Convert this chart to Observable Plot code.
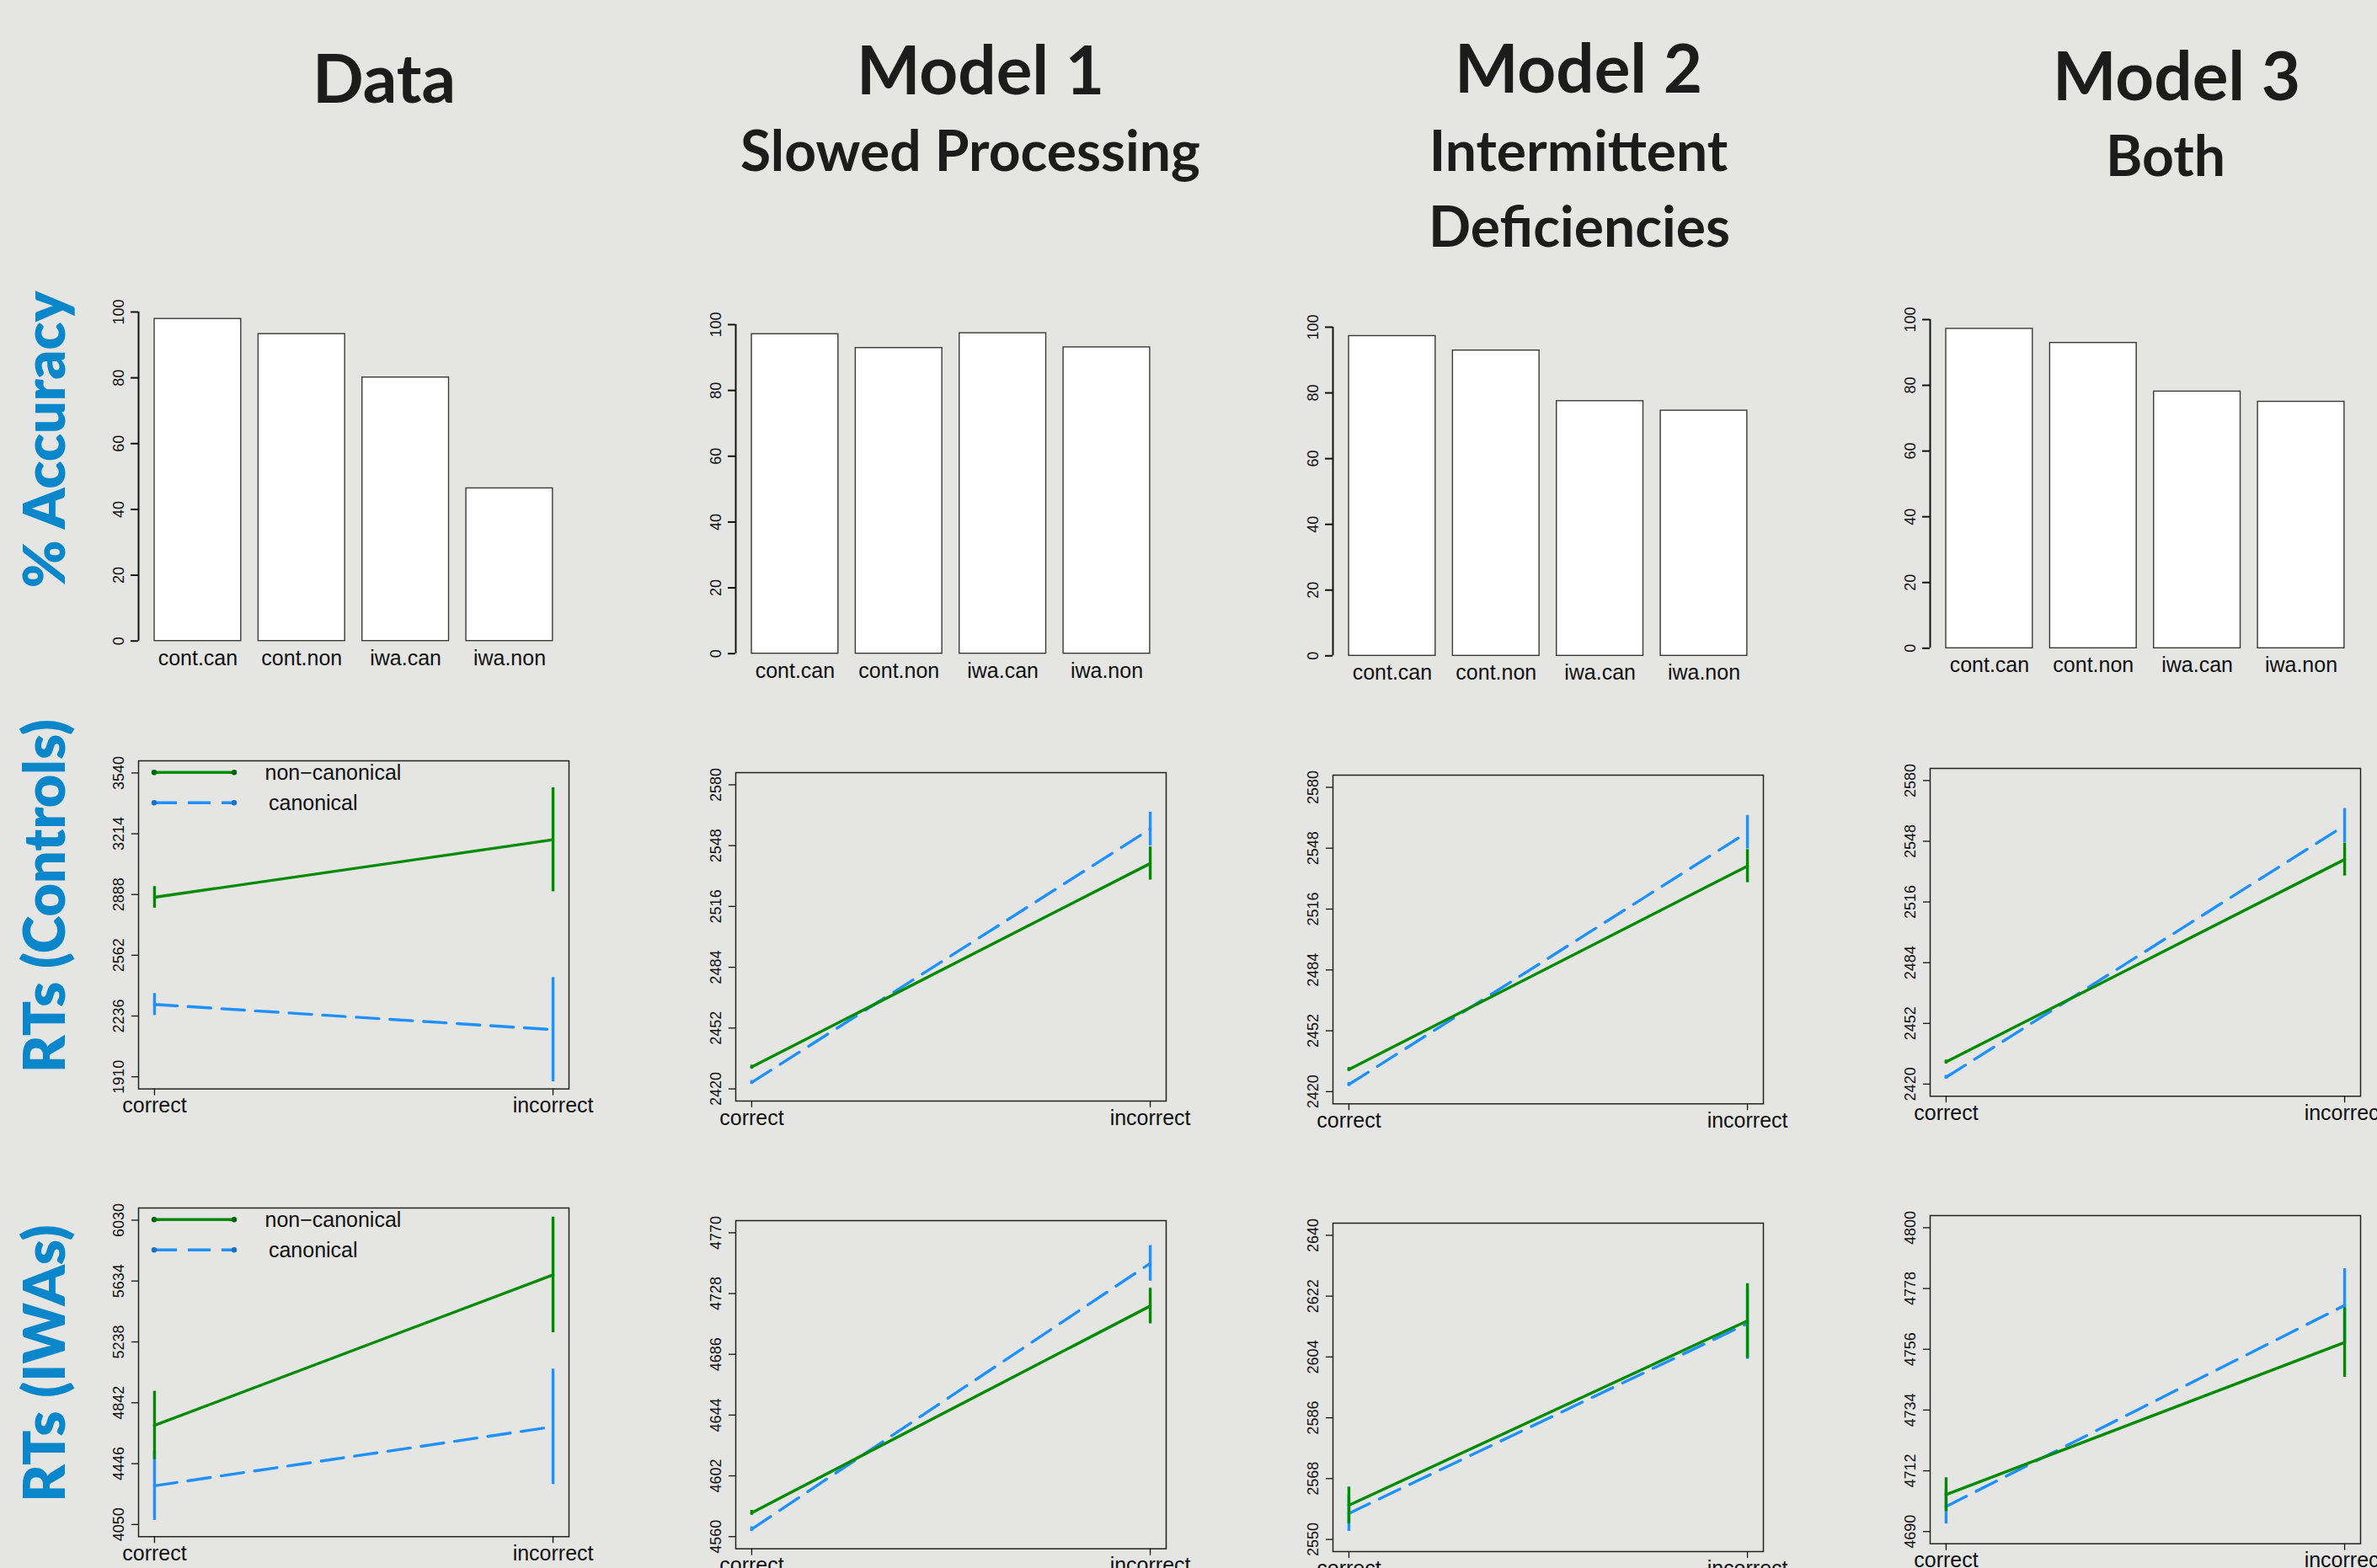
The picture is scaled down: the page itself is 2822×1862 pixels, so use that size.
<!DOCTYPE html>
<html>
<head>
<meta charset="utf-8">
<script src="https://cdn.jsdelivr.net/npm/d3@7"></script>
<script src="https://cdn.jsdelivr.net/npm/@observablehq/plot@0.6"></script>
<style>
html, body { margin: 0; padding: 0; background: #e5e5e3; }
#page { position: relative; width: 2822px; height: 1862px; overflow: hidden; background: #e5e5e3; }
</style>
</head>
<body>
<div id="page"></div>
<script>
// ---------------- DATA ----------------
const columnTitles = ["Data", "Model 1", "Model 2", "Model 3"];
const columnSubtitles = [[], ["Slowed Processing"], ["Intermittent", "Deficiencies"], ["Both"]];
const rowLabels = ["% Accuracy", "RTs (Controls)", "RTs (IWAs)"];

const categories = ["cont.can", "cont.non", "iwa.can", "iwa.non"];
const accuracyData   = [97.9, 93.3, 80.1, 46.4];
const accuracyModel1 = [97.1, 92.9, 97.4, 93.1];
const accuracyModel2 = [97.3, 92.9, 77.5, 74.6];
const accuracyModel3 = [97.2, 92.9, 78.1, 75.0];
const accuracyTicks  = [0, 20, 40, 60, 80, 100];

const conditions = ["correct", "incorrect"];
const seriesNames = ["non\u2212canonical", "canonical"];

// RTs, controls
const ctrlTicksData   = [1910, 2236, 2562, 2888, 3214, 3540];
const ctrlTicksModels = [2420, 2452, 2484, 2516, 2548, 2580];
const ctrlNonMeanData = [2873, 3182];   const ctrlNonErrData = [58, 279];
const ctrlCanMeanData = [2298, 2163];   const ctrlCanErrData = [59, 280];
const ctrlNonMeanM1 = [2431.5, 2538.6]; const ctrlNonErrM1 = [1.0, 8.7];
const ctrlCanMeanM1 = [2423.4, 2556.7]; const ctrlCanErrM1 = [1.0, 8.9];
const ctrlNonMeanM2 = [2431.7, 2538.6]; const ctrlNonErrM2 = [1.0, 8.7];
const ctrlCanMeanM2 = [2423.8, 2556.4]; const ctrlCanErrM2 = [1.0, 8.8];
const ctrlNonMeanM3 = [2431.7, 2538.4]; const ctrlNonErrM3 = [1.0, 8.7];
const ctrlCanMeanM3 = [2423.6, 2556.3]; const ctrlCanErrM3 = [1.0, 9.0];

// RTs, IWAs
const iwaTicksData = [4050, 4446, 4842, 5238, 5634, 6030];
const iwaTicksM1   = [4560, 4602, 4644, 4686, 4728, 4770];
const iwaTicksM2   = [2550, 2568, 2586, 2604, 2622, 2640];
const iwaTicksM3   = [4690, 4712, 4734, 4756, 4778, 4800];
const iwaNonMeanData = [4695, 5674];   const iwaNonErrData = [222, 376];
const iwaCanMeanData = [4302, 4686];   const iwaCanErrData = [225, 375];
const iwaNonMeanM1 = [4576.5, 4719.4]; const iwaNonErrM1 = [1.7, 12.3];
const iwaCanMeanM1 = [4565.2, 4748.9]; const iwaCanErrM1 = [1.6, 12.3];
const iwaNonMeanM2 = [2560.1, 2614.7]; const iwaNonErrM2 = [5.4, 11.0];
const iwaCanMeanM2 = [2557.7, 2613.9]; const iwaCanErrM2 = [5.3, 10.6];
const iwaNonMeanM3 = [4703.4, 4758.5]; const iwaNonErrM3 = [6.1, 12.6];
const iwaCanMeanM3 = [4699.1, 4771.9]; const iwaCanErrM3 = [6.3, 13.3];

// ---------------- STYLE / LAYOUT ----------------
const page = document.getElementById("page");
const FONT = "'Liberation Sans', Arial, Helvetica, sans-serif";
const TITLE_FONT = "Lato, 'Open Sans', sans-serif";
const GREEN = "#008B00", BLUE = "#1E90FF", INK = "#111111", LABEL_BLUE = "#0a87cb";
const LINE_W = 3.4, DASH = "27,13";
const PLOT_W = 511;

const barLayout = [
  {axisX: 164,    y100: 370, y0: 760.7},
  {axisX: 872.9,  y100: 385, y0: 775.7},
  {axisX: 1581.7, y100: 388, y0: 778.3},
  {axisX: 2291.2, y100: 379, y0: 769.3}
];
const ctrlLayout = [
  {left: 164,    top: 902.7, bottom: 1292.3},
  {left: 873,    top: 917.3, bottom: 1307.3},
  {left: 1582.2, top: 919.7, bottom: 1310},
  {left: 2290.8, top: 911.7, bottom: 1301}
];
const iwaLayout = [
  {left: 164,    top: 1434,   bottom: 1824.3},
  {left: 873,    top: 1449.3, bottom: 1839},
  {left: 1582.2, top: 1451.7, bottom: 1841.7},
  {left: 2290.8, top: 1443,   bottom: 1832.7}
];
const titleLayout = [
  {x: 456,  y: 122, sub: []},
  {x: 1164, y: 112, sub: [{x: 1152, y: 203}]},
  {x: 1874, y: 110, sub: [{x: 1874, y: 203}, {x: 1875, y: 293}]},
  {x: 2584, y: 119, sub: [{x: 2571, y: 209}]}
];
const rowLabelLayout = [{x: 77, y: 522}, {x: 77, y: 1064}, {x: 77, y: 1619}];

function mount(svg, left, top) {
  svg.style.position = "absolute";
  svg.style.left = left + "px";
  svg.style.top = top + "px";
  svg.style.background = "transparent";
  svg.style.overflow = "visible";
  svg.style.maxWidth = "none";
  page.appendChild(svg);
}

// ---------------- BAR PANELS ----------------
function barPanel(values, lay) {
  const mL = 70, mR = 30, mT = 20, mB = 50;
  const plotH = lay.y0 - lay.y100;
  const bars = categories.map((cat, i) => ({cat, value: values[i], x1: 0.2 + 1.2 * i, x2: 1.2 + 1.2 * i}));
  const xMin = 0.015, xMax = 4.986;
  const svg = Plot.plot({
    width: mL + PLOT_W + mR,
    height: mT + plotH + mB,
    marginLeft: mL, marginRight: mR, marginTop: mT, marginBottom: mB,
    x: {type: "linear", domain: [xMin, xMax], axis: null},
    y: {domain: [0, 100]},
    marks: [
      Plot.rect(bars, {x1: "x1", x2: "x2", y1: 0, y2: "value", fill: "white", stroke: "#3a3a3a", strokeWidth: 1.4}),
      Plot.ruleX([xMin], {y1: 0, y2: 100, stroke: INK, strokeWidth: 2}),
      Plot.axisY(accuracyTicks, {tickSize: 9, tickFormat: () => "", label: null, stroke: INK, strokeWidth: 2}),
      Plot.text(accuracyTicks, {y: d => d, text: d => String(d), frameAnchor: "left", dx: -23, rotate: -90,
        textAnchor: "middle", lineAnchor: "middle", fontSize: 18, fontFamily: FONT, fill: INK}),
      Plot.text(bars, {x: d => (d.x1 + d.x2) / 2, text: "cat", frameAnchor: "bottom", dy: 28.6,
        lineAnchor: "bottom", fontSize: 25, fontFamily: FONT, fill: INK})
    ]
  });
  mount(svg, lay.axisX - mL, lay.y100 - mT);
}

// ---------------- RT PANELS ----------------
function legendMark(index, scales, values, dims) {
  const g = d3.create("svg:g");
  const lx = dims.marginLeft + 19, ly = dims.marginTop + 14.3;
  const styles = [{color: GREEN, dot: "#006400", dash: null, tx: 131.5}, {color: BLUE, dot: "#1870c8", dash: DASH, tx: 136}];
  seriesNames.forEach((name, k) => {
    const s = styles[k], y = ly + 36 * k;
    g.append("line").attr("x1", lx).attr("x2", lx + 95).attr("y1", y).attr("y2", y)
      .attr("stroke", s.color).attr("stroke-width", LINE_W).attr("stroke-dasharray", s.dash);
    [lx, lx + 95].forEach(cx => g.append("circle").attr("cx", cx).attr("cy", y).attr("r", 3.2).attr("fill", s.dot));
    g.append("text").attr("x", lx + s.tx).attr("y", y).attr("dy", "0.35em").attr("text-anchor", "start")
      .attr("font-family", FONT).attr("font-size", 25).attr("fill", INK).text(name);
  });
  return g.node();
}

function rtPanel(lay, ticks, nonMean, nonErr, canMean, canErr, withLegend) {
  const mL = 70, mR = 60, mT = 10, mB = 50;
  const plotH = lay.bottom - lay.top;
  const t0 = ticks[0], t1 = ticks[ticks.length - 1], pad = 0.04 * (t1 - t0);
  const toRows = (mean, err) => conditions.map((c, i) => ({pos: i + 1, mean: mean[i], lo: mean[i] - err[i], hi: mean[i] + err[i]}));
  const non = toRows(nonMean, nonErr);
  const can = toRows(canMean, canErr);
  const marks = [
    Plot.frame({stroke: "#222", strokeWidth: 1.5}),
    Plot.ruleX(can, {x: "pos", y1: "lo", y2: "hi", stroke: BLUE, strokeWidth: LINE_W}),
    Plot.line(can, {x: "pos", y: "mean", stroke: BLUE, strokeWidth: LINE_W, strokeDasharray: DASH}),
    Plot.ruleX(non, {x: "pos", y1: "lo", y2: "hi", stroke: GREEN, strokeWidth: LINE_W}),
    Plot.line(non, {x: "pos", y: "mean", stroke: GREEN, strokeWidth: LINE_W}),
    Plot.axisY(ticks, {tickSize: 8, tickFormat: () => "", label: null, stroke: INK, strokeWidth: 1.3}),
    Plot.text(ticks, {y: d => d, text: d => String(d), frameAnchor: "left", dx: -23.5, rotate: -90,
      textAnchor: "middle", lineAnchor: "middle", fontSize: 18, fontFamily: FONT, fill: INK}),
    Plot.axisX([1, 2], {tickSize: 8, tickFormat: () => "", label: null, stroke: INK, strokeWidth: 1.3}),
    Plot.text(conditions, {x: (d, i) => i + 1, text: d => d, frameAnchor: "bottom", dy: 28,
      lineAnchor: "bottom", fontSize: 25, fontFamily: FONT, fill: INK})
  ];
  if (withLegend) marks.push(legendMark);
  const svg = Plot.plot({
    width: mL + PLOT_W + mR,
    height: mT + plotH + mB,
    marginLeft: mL, marginRight: mR, marginTop: mT, marginBottom: mB,
    x: {type: "linear", domain: [0.96, 2.04]},
    y: {domain: [t0 - pad, t1 + pad]},
    marks
  });
  mount(svg, lay.left - mL, lay.top - mT);
}

// ---------------- BUILD ----------------
[accuracyData, accuracyModel1, accuracyModel2, accuracyModel3].forEach((v, i) => barPanel(v, barLayout[i]));

rtPanel(ctrlLayout[0], ctrlTicksData,   ctrlNonMeanData, ctrlNonErrData, ctrlCanMeanData, ctrlCanErrData, true);
rtPanel(ctrlLayout[1], ctrlTicksModels, ctrlNonMeanM1, ctrlNonErrM1, ctrlCanMeanM1, ctrlCanErrM1, false);
rtPanel(ctrlLayout[2], ctrlTicksModels, ctrlNonMeanM2, ctrlNonErrM2, ctrlCanMeanM2, ctrlCanErrM2, false);
rtPanel(ctrlLayout[3], ctrlTicksModels, ctrlNonMeanM3, ctrlNonErrM3, ctrlCanMeanM3, ctrlCanErrM3, false);

rtPanel(iwaLayout[0], iwaTicksData, iwaNonMeanData, iwaNonErrData, iwaCanMeanData, iwaCanErrData, true);
rtPanel(iwaLayout[1], iwaTicksM1,   iwaNonMeanM1, iwaNonErrM1, iwaCanMeanM1, iwaCanErrM1, false);
rtPanel(iwaLayout[2], iwaTicksM2,   iwaNonMeanM2, iwaNonErrM2, iwaCanMeanM2, iwaCanErrM2, false);
rtPanel(iwaLayout[3], iwaTicksM3,   iwaNonMeanM3, iwaNonErrM3, iwaCanMeanM3, iwaCanErrM3, false);

// ---------------- TITLES & ROW LABELS ----------------
const overlay = d3.create("svg").attr("width", 2822).attr("height", 1862)
  .style("position", "absolute").style("left", "0px").style("top", "0px").style("pointer-events", "none");
columnTitles.forEach((t, i) => {
  const L = titleLayout[i];
  overlay.append("text").attr("x", L.x).attr("y", L.y).attr("text-anchor", "middle")
    .attr("font-family", TITLE_FONT).attr("font-weight", 700).attr("font-size", 80).attr("fill", "#1c1c1c").text(t);
  columnSubtitles[i].forEach((s, j) => {
    overlay.append("text").attr("x", L.sub[j].x).attr("y", L.sub[j].y).attr("text-anchor", "middle")
      .attr("font-family", TITLE_FONT).attr("font-weight", 700).attr("font-size", 66).attr("fill", "#1c1c1c").text(s);
  });
});
rowLabels.forEach((t, i) => {
  const L = rowLabelLayout[i];
  overlay.append("text").attr("transform", `translate(${L.x},${L.y}) rotate(-90)`).attr("text-anchor", "middle")
    .attr("font-family", TITLE_FONT).attr("font-weight", 800).attr("font-size", 68).attr("fill", LABEL_BLUE).text(t);
});
page.appendChild(overlay.node());
</script>
</body>
</html>
